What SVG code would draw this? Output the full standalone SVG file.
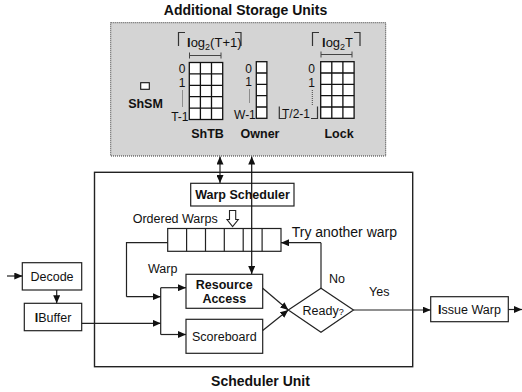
<svg xmlns="http://www.w3.org/2000/svg" width="522" height="392" viewBox="0 0 522 392">
<defs>
<marker id="ah" viewBox="0 0 8 7" refX="8" refY="3.5" markerWidth="8" markerHeight="7" markerUnits="userSpaceOnUse" orient="auto-start-reverse"><path d="M0,0 L8,3.5 L0,7 z" fill="#111"/></marker>
</defs>
<style>
text{font-family:"Liberation Sans",Arial,sans-serif;fill:#111}
.b{font-weight:bold}
.t14{font-size:14px}
.t12{font-size:12.5px}
.n{font-size:12px}
.box{fill:#fff;stroke:#222;stroke-width:1.2}
.grid{fill:#fff;stroke:#111;stroke-width:1.3}
.ln{fill:none;stroke:#222;stroke-width:1.2}
.arr{fill:none;stroke:#222;stroke-width:1.2;marker-end:url(#ah)}
.dot{fill:none;stroke:#444;stroke-width:1;stroke-dasharray:1,1}
.brk{fill:none;stroke:#333;stroke-width:1.2}
</style>

<g id="storage">
<text class="b t14" x="245.5" y="15" text-anchor="middle">Additional Storage Units</text>
<rect x="110.7" y="22.7" width="275" height="133.3" fill="#d4d4d4" stroke="#333" stroke-width="1" stroke-dasharray="1,1"/>
</g>

<g id="shsm">
<rect x="140.7" y="82.7" width="8.6" height="6.6" fill="#fff" stroke="#111" stroke-width="1.1"/>
<text class="b t12" x="145.5" y="107.5" text-anchor="middle">ShSM</text>
</g>

<g id="shtb">
<path class="brk" d="M178.5,46 V32.5 H185 M241,46 V32.5 H235"/>
<text x="187" y="46.5" style="font-size:13px"><tspan class="b">l</tspan>og<tspan dy="3" style="font-size:9px">2</tspan><tspan dy="-3">(T+1)</tspan></text>
<path d="M189.5,55.5 H221 M189.5,52.5 V58.5 M221,52.5 V58.5" fill="none" stroke="#444" stroke-width="1"/>
<rect class="grid" x="189.3" y="62.5" width="33.4" height="57"/>
<path class="grid" d="M200.4,62.5 V119.5 M211.5,62.5 V119.5 M189.3,73.9 H222.7 M189.3,85.3 H222.7 M189.3,96.7 H222.7 M189.3,108.1 H222.7"/>
<text class="n" x="185.5" y="73" text-anchor="end">0</text>
<text class="n" x="185.5" y="87" text-anchor="end">1</text>
<path class="dot" d="M182.5,90.5 V107"/>
<text class="n" x="188.5" y="120.5" text-anchor="end">T-1</text>
<text class="b t12" x="207.5" y="137.5" text-anchor="middle">ShTB</text>
</g>

<g id="owner">
<rect class="grid" x="256.3" y="61.7" width="10.6" height="56.6"/>
<path class="grid" d="M256.3,73 H266.9 M256.3,84.3 H266.9 M256.3,95.6 H266.9 M256.3,107 H266.9"/>
<text class="n" x="252" y="72.5" text-anchor="end">0</text>
<text class="n" x="252" y="86" text-anchor="end">1</text>
<path class="dot" d="M249.5,89.5 V103.5"/>
<text class="n" x="255.8" y="118.5" text-anchor="end">W-1</text>
<text class="b t12" x="260" y="137.5" text-anchor="middle">Owner</text>
</g>

<g id="lock">
<path class="brk" d="M312.5,46 V32.5 H319 M360,46 V32.5 H354"/>
<text x="322" y="46.5" style="font-size:13px"><tspan class="b">l</tspan>og<tspan dy="3" style="font-size:9px">2</tspan><tspan dy="-3">T</tspan></text>
<path d="M321,54.5 H352 M321,51.5 V57.5 M352,51.5 V57.5" fill="none" stroke="#444" stroke-width="1"/>
<rect class="grid" x="320.7" y="61.7" width="33.4" height="56.6"/>
<path class="grid" d="M331.8,61.7 V118.3 M342.9,61.7 V118.3 M320.7,73 H354.1 M320.7,84.3 H354.1 M320.7,95.6 H354.1 M320.7,107 H354.1"/>
<text class="n" x="315" y="72.8" text-anchor="end">0</text>
<text class="n" x="315" y="86.5" text-anchor="end">1</text>
<path class="dot" d="M312.3,90 V105"/>
<path class="brk" d="M279.3,106.5 V118.5 H286 M317.5,106.5 V118.5 H311"/>
<text class="n" x="282" y="117.5">T/2-1</text>
<text class="b t12" x="339" y="137.5" text-anchor="middle">Lock</text>
</g>

<g id="scheduler-unit">
<rect x="94.5" y="172.3" width="318.2" height="194.4" fill="none" stroke="#222" stroke-width="1.4"/>
<text class="b t14" x="260.5" y="385.5" text-anchor="middle">Scheduler Unit</text>
</g>

<g id="warp-scheduler">
<rect class="box" x="190.7" y="183.3" width="103.3" height="22.7"/>
<text class="b t12" x="242.5" y="199" text-anchor="middle">Warp Scheduler</text>
</g>

<g id="ordered-warps">
<text class="t12" x="132.7" y="223">Ordered Warps</text>
<path d="M229.5,210.5 H235.7 V219.5 H238.3 L232.6,226.5 L227,219.5 H229.5 Z" fill="#fff" stroke="#222" stroke-width="1.1"/>
<rect class="box" x="167.7" y="228.5" width="113.3" height="22.8"/>
<path class="ln" d="M186.6,228.5 V251.3 M205.5,228.5 V251.3 M224.3,228.5 V251.3 M243.2,228.5 V251.3 M262.1,228.5 V251.3"/>
</g>

<g id="resource-access">
<rect class="box" x="186" y="274.3" width="76.7" height="34"/>
<text class="b t12" x="224.3" y="288.5" text-anchor="middle">Resource</text>
<text class="b t12" x="224.3" y="302.8" text-anchor="middle">Access</text>
</g>

<g id="scoreboard">
<rect class="box" x="186" y="319.3" width="76.7" height="34"/>
<text class="t12" x="224.3" y="340.8" text-anchor="middle">Scoreboard</text>
</g>

<g id="ready">
<path d="M288.3,310 L321,288.3 L353.5,310 L321,332.3 Z" fill="#fff" stroke="#222" stroke-width="1.2"/>
<text x="302.5" y="314.5" class="t12">Ready<tspan style="font-size:9px">?</tspan></text>
</g>

<g id="decode">
<rect class="box" x="22.3" y="262.7" width="59.4" height="27.3"/>
<text class="t12" x="52" y="280.7" text-anchor="middle">Decode</text>
</g>

<g id="ibuffer">
<rect class="box" x="24.3" y="303.3" width="57.4" height="27.4"/>
<text class="t12" x="53" y="321.5" text-anchor="middle"><tspan class="b">I</tspan>Buffer</text>
</g>

<g id="issue-warp">
<rect class="box" x="430.7" y="296.7" width="77.6" height="25"/>
<text class="t12" x="469.5" y="314" text-anchor="middle"><tspan class="b">I</tspan>ssue Warp</text>
</g>

<g id="connectors">
<path d="M220,156.5 V183" fill="none" stroke="#222" stroke-width="1.2" marker-start="url(#ah)" marker-end="url(#ah)"/>
<path d="M251.7,274 V156.5" fill="none" stroke="#111" stroke-width="1.2" marker-start="url(#ah)" marker-end="url(#ah)"/>
<path class="arr" d="M7,276 H22.3"/>
<path class="arr" d="M56.7,290 V303.3"/>
<path class="ln" d="M167.7,242.7 H126.5 V296.7"/>
<path class="arr" d="M126.5,296.7 H160.7"/>
<path class="arr" d="M81.7,323.3 H160.7"/>
<path class="ln" d="M160.7,287.7 V334.5"/>
<path class="arr" d="M160.7,287.7 H186"/>
<path class="arr" d="M160.7,334.5 H186"/>
<path class="arr" d="M262.7,288.3 L288.3,310"/>
<path class="arr" d="M262.7,330.5 L288.3,310"/>
<path class="ln" d="M321,288.3 V242.7"/>
<path class="arr" d="M321,242.7 H281"/>
<path class="arr" d="M353.5,310 H430.7"/>
<path class="arr" d="M508.3,309.5 H522"/>
<text class="t12" x="148" y="272.7">Warp</text>
<text class="t14" x="291.7" y="236.7">Try another warp</text>
<text class="t12" x="329" y="282.7">No</text>
<text class="t12" x="369" y="296">Yes</text>
</g>
</svg>
